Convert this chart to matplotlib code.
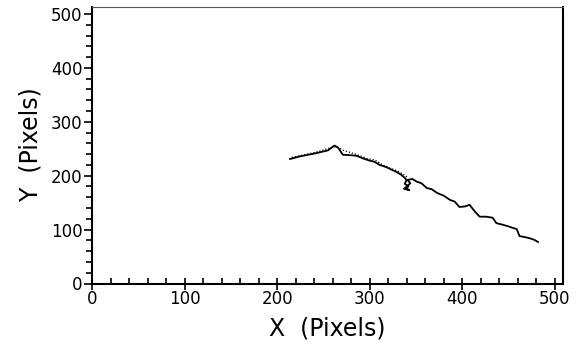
import matplotlib.pyplot as plt
from matplotlib.ticker import MultipleLocator

# traced path (pixels)
track_x = [214, 225, 240, 255, 262, 266, 271, 280, 286, 293, 300, 305, 311, 318,
           324, 329, 334, 338, 340, 338, 342, 337, 343, 339, 344, 341, 346, 351,
           356, 362, 367, 373, 380, 387, 392, 397, 403, 408, 414, 419, 426, 433,
           437, 444, 450, 455, 459, 462, 468, 473, 478, 482]
track_y = [231, 236, 241, 247, 256, 252, 239, 238, 237, 232, 228, 226, 220, 216,
           211, 207, 202, 196, 192, 185, 180, 176, 173, 178, 186, 192, 194, 189,
           186, 177, 175, 168, 163, 155, 152, 142, 143, 146, 133, 124, 124, 122,
           112, 109, 106, 103, 101, 88, 86, 84, 81, 77]

# second (dotted) path
model_x = [216, 230, 245, 258, 264, 272, 285, 297, 306, 314, 322, 330, 336, 342]
model_y = [234, 239, 245, 252, 254, 247, 240, 232, 229, 220, 214, 209, 203, 196]

x_ticks = [0, 100, 200, 300, 400, 500]
y_ticks = [0, 100, 200, 300, 400, 500]

plt.rcParams['font.family'] = ['DejaVu Sans']

fig = plt.figure(figsize=(5.78, 3.48), dpi=100)
ax = fig.add_axes([92 / 578, 1 - 283.5 / 348, 471 / 578, 277 / 348])

ax.plot(model_x, model_y, color='black', linestyle=(0, (1, 1.5)), linewidth=0.9)
ax.plot(track_x, track_y, color='black', linewidth=1.3)

ax.set_xlim(0, 509)
ax.set_ylim(0, 514)
ax.set_xticks(x_ticks)
ax.set_yticks(y_ticks)
ax.xaxis.set_minor_locator(MultipleLocator(20))
ax.yaxis.set_minor_locator(MultipleLocator(20))

ax.tick_params(axis='x', which='major', direction='inout', length=9, width=1.2,
               labelsize=12, pad=0)
ax.tick_params(axis='x', which='minor', direction='in', length=4, width=1.2)
ax.tick_params(axis='y', which='major', direction='out', length=6, width=1.2,
               labelsize=12, pad=1)
ax.tick_params(axis='y', which='minor', direction='out', length=4, width=1.2)

for side in ['left', 'bottom', 'right']:
    ax.spines[side].set_linewidth(1.5)
ax.spines['top'].set_linewidth(0.8)
ax.spines['top'].set_color('#555555')

ax.set_xlabel('X  (Pixels)', fontsize=17, labelpad=6)
ax.set_ylabel('Y  (Pixels)', fontsize=17, labelpad=6)

fig.savefig('out.png', dpi=100)
